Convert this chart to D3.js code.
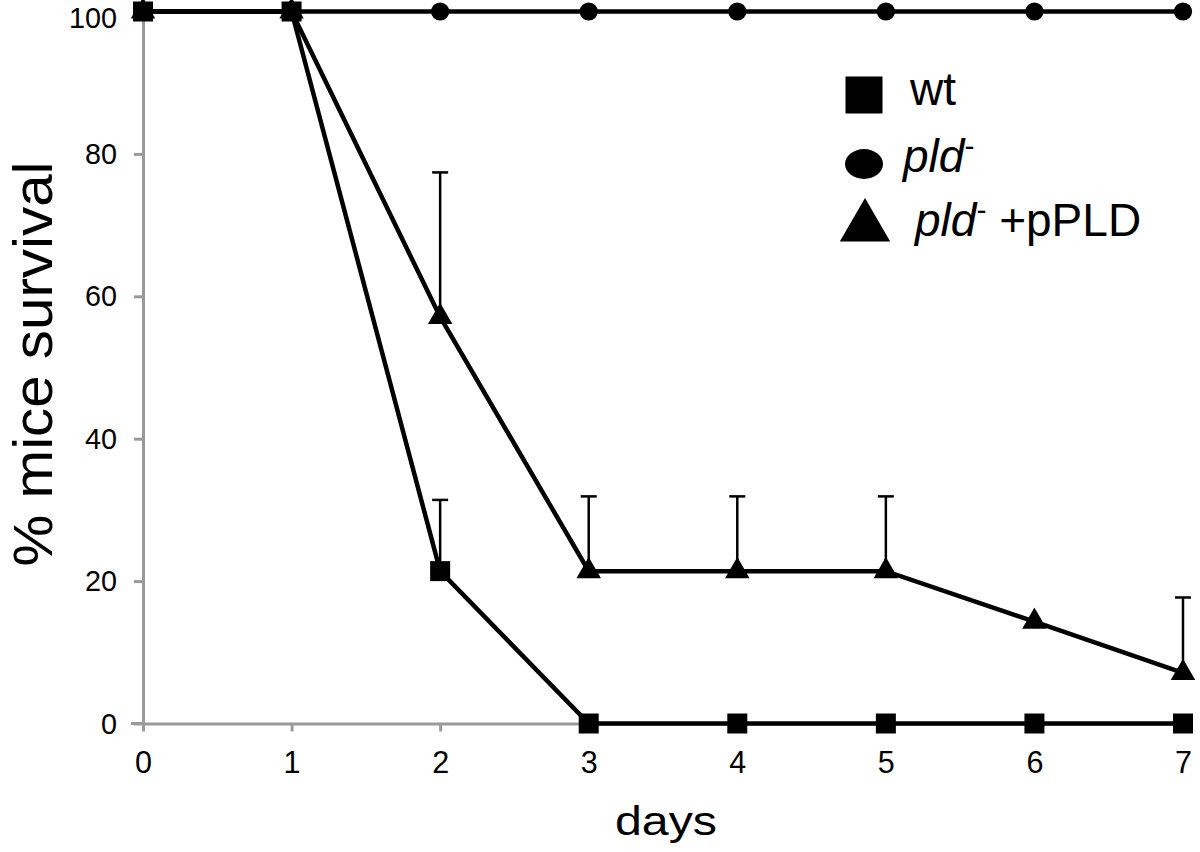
<!DOCTYPE html>
<html><head><meta charset="utf-8">
<script src="https://cdn.jsdelivr.net/npm/d3@7"></script>
<style>body{margin:0;background:#fff}</style>
</head><body>
<svg id="c" width="1200" height="852"></svg>
<script>
const days = [0,1,2,3,4,5,6,7];
const wt = [100,100,21.4,0,0,0,0,0];
const wtErr = [0,0,10,0,0,0,0,0];
const pld = [100,100,100,100,100,100,100,100];
const pldP = [100,100,57.1,21.4,21.4,21.4,14.3,7.1];
const pldPErr = [0,0,20.3,10.5,10.5,10.5,0,10.6];
const xTicks = [0,1,2,3,4,5,6,7];
const yTicks = [0,20,40,60,80,100];

const svg = d3.select("#c");
const x = d3.scaleLinear().domain([0,7]).range([143,1183]);
const y = d3.scaleLinear().domain([0,100]).range([723.5,11.5]);
const font = "'Liberation Sans', Arial, sans-serif";
const grey = "#9a9a9a";

// axes
const xa = svg.append("g").attr("transform",`translate(0,${y(0)})`)
  .call(d3.axisBottom(x).tickValues(xTicks).tickFormat(d3.format("d")).tickSize(8).tickPadding(19).tickSizeOuter(0));
const ya = svg.append("g").attr("transform",`translate(${x(0)},0)`)
  .call(d3.axisLeft(y).tickValues(yTicks).tickFormat(d3.format("d")).tickSize(9).tickPadding(17).tickSizeOuter(0));
[xa,ya].forEach(a=>{
  a.select(".domain").attr("stroke",grey).attr("stroke-width",3);
  a.selectAll(".tick line").attr("stroke",grey).attr("stroke-width",3);
  a.selectAll(".tick text").attr("font-family",font).attr("font-size",31).attr("fill","#000");
});
ya.selectAll(".tick text").attr("font-size",30).attr("textLength",d=>String(d).length*16).attr("lengthAdjust","spacingAndGlyphs")
  .attr("y",d=>d===100?6:0);
xa.selectAll(".tick text").attr("textLength",17).attr("lengthAdjust","spacingAndGlyphs");
// extend x-axis line slightly left like reference
svg.append("line").attr("x1",x(0)-12).attr("x2",x(0)).attr("y1",y(0)).attr("y2",y(0)).attr("stroke",grey).attr("stroke-width",3);

// axis titles
svg.append("text").attr("x",666).attr("y",835).attr("text-anchor","middle")
  .attr("font-family",font).attr("font-size",40).attr("textLength",102).attr("lengthAdjust","spacingAndGlyphs").text("days");
svg.append("text").attr("transform",`translate(52,364) rotate(-90)`).attr("text-anchor","middle")
  .attr("font-family",font).attr("font-size",56).attr("textLength",405).attr("lengthAdjust","spacingAndGlyphs").text("% mice survival");

// error bars (upward only)
function errBars(vals, errs){
  const g = svg.append("g");
  days.forEach((d,i)=>{
    if(errs[i]>0){
      g.append("line").attr("x1",x(d)).attr("x2",x(d)).attr("y1",y(vals[i])).attr("y2",y(vals[i]+errs[i]))
        .attr("stroke","#000").attr("stroke-width",2.5);
      g.append("line").attr("x1",x(d)-8).attr("x2",x(d)+8).attr("y1",y(vals[i]+errs[i])).attr("y2",y(vals[i]+errs[i]))
        .attr("stroke","#000").attr("stroke-width",2.5);
    }
  });
}
errBars(pldP, pldPErr);
errBars(wt, wtErr);

const line = d3.line().x((v,i)=>x(days[i])).y(v=>y(v));
function series(vals, type, size){
  svg.append("path").attr("d",line(vals)).attr("fill","none").attr("stroke","#000").attr("stroke-width",4.5);
  svg.append("g").selectAll("path").data(vals).join("path")
    .attr("transform",(v,i)=>`translate(${x(days[i])},${y(v)})`)
    .attr("d",d3.symbol().type(type).size(size)).attr("fill","#000");
}
series(pldP, d3.symbolTriangle, 260);
series(pld, d3.symbolCircle, 260);
series(wt, d3.symbolSquare, 400);

// legend
const lg = svg.append("g");
lg.append("path").attr("transform","translate(864,95)").attr("d",d3.symbol().type(d3.symbolSquare).size(1370)).attr("fill","#000");
lg.append("ellipse").attr("cx",864).attr("cy",164).attr("rx",19).attr("ry",15).attr("fill","#000");
lg.append("path").attr("transform","translate(865,227)").attr("d",d3.symbol().type(d3.symbolTriangle).size(1100)).attr("fill","#000");
const t1 = lg.append("text").attr("x",910).attr("y",105).attr("font-family",font).attr("font-size",46).text("wt");
const t2 = lg.append("text").attr("x",903).attr("y",172).attr("font-family",font).attr("font-size",46);
t2.append("tspan").attr("font-style","italic").text("pld");
t2.append("tspan").attr("font-size",30).attr("dy",-16).text("-");
const t3 = lg.append("text").attr("x",915).attr("y",236).attr("font-family",font).attr("font-size",46);
t3.append("tspan").attr("font-style","italic").text("pld");
t3.append("tspan").attr("font-size",30).attr("dy",-16).text("-");
t3.append("tspan").attr("dy",16).text(" +pPLD");
</script>
</body></html>
